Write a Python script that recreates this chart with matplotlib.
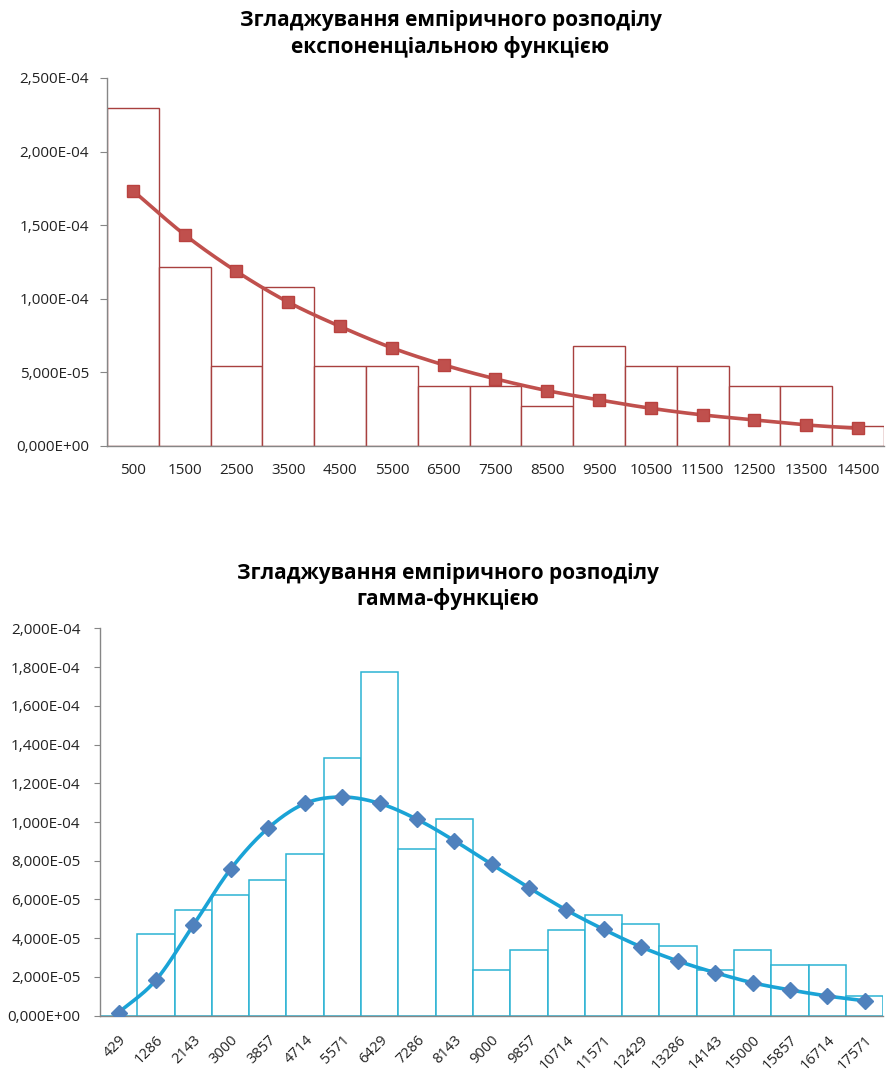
import matplotlib
matplotlib.use("Agg")
import matplotlib.pyplot as plt
import numpy as np
from matplotlib.ticker import FuncFormatter, MultipleLocator

plt.rcParams['font.family'] = ['Open Sans', 'DejaVu Sans']

# --- top chart: exponential smoothing ---
exp_labels = ["500", "1500", "2500", "3500", "4500", "5500", "6500", "7500",
              "8500", "9500", "10500", "11500", "12500", "13500", "14500"]
exp_hist = [2.297e-4, 1.216e-4, 0.541e-4, 1.081e-4, 0.541e-4, 0.541e-4, 0.405e-4,
            0.405e-4, 0.270e-4, 0.676e-4, 0.541e-4, 0.541e-4, 0.405e-4, 0.405e-4,
            0.135e-4]
exp_fit = [1.735e-4, 1.435e-4, 1.186e-4, 0.977e-4, 0.812e-4, 0.667e-4, 0.551e-4,
           0.456e-4, 0.376e-4, 0.313e-4, 0.256e-4, 0.211e-4, 0.177e-4, 0.143e-4,
           0.120e-4]

# --- bottom chart: gamma smoothing ---
gam_labels = ["429", "1286", "2143", "3000", "3857", "4714", "5571", "6429", "7286",
              "8143", "9000", "9857", "10714", "11571", "12429", "13286", "14143",
              "15000", "15857", "16714", "17571"]
gam_hist = [0.0, 0.420e-4, 0.544e-4, 0.623e-4, 0.700e-4, 0.835e-4, 1.332e-4,
            1.773e-4, 0.859e-4, 1.015e-4, 0.236e-4, 0.338e-4, 0.441e-4, 0.520e-4,
            0.473e-4, 0.361e-4, 0.236e-4, 0.338e-4, 0.260e-4, 0.260e-4, 0.102e-4]
gam_fit = [0.016e-4, 0.184e-4, 0.467e-4, 0.756e-4, 0.967e-4, 1.096e-4, 1.129e-4,
           1.096e-4, 1.014e-4, 0.904e-4, 0.782e-4, 0.661e-4, 0.546e-4, 0.446e-4,
           0.356e-4, 0.282e-4, 0.222e-4, 0.170e-4, 0.133e-4, 0.102e-4, 0.077e-4]


def smooth(x, y, n=20):
    # catmull-rom curve through the points (like Excel "smoothed line")
    x = np.asarray(x, float)
    y = np.asarray(y, float)
    px = np.concatenate([[2 * x[0] - x[1]], x, [2 * x[-1] - x[-2]]])
    py = np.concatenate([[2 * y[0] - y[1]], y, [2 * y[-1] - y[-2]]])
    xs, ys = [], []
    t = np.linspace(0, 1, n, endpoint=False)
    for i in range(1, len(px) - 2):
        for p, out in ((px, xs), (py, ys)):
            p0, p1, p2, p3 = p[i - 1], p[i], p[i + 1], p[i + 2]
            out.extend(0.5 * (2 * p1 + (-p0 + p2) * t + (2 * p0 - 5 * p1 + 4 * p2 - p3) * t ** 2
                              + (-p0 + 3 * p1 - 3 * p2 + p3) * t ** 3))
    xs.append(x[-1])
    ys.append(y[-1])
    return xs, ys


sci = FuncFormatter(lambda v, pos: ("%.3E" % v).replace(".", ","))


def style(ax, labels, ymax, step, rot):
    n = len(labels)
    ax.set_xlim(-0.5, n - 0.5)
    ax.set_ylim(0, ymax)
    ax.yaxis.set_major_locator(MultipleLocator(step))
    ax.yaxis.set_major_formatter(sci)
    ax.set_xticks(range(n))
    if rot:
        ax.set_xticklabels(labels, rotation=45, ha="right", rotation_mode="anchor")
    else:
        ax.set_xticklabels(labels)
    for s in ("top", "right"):
        ax.spines[s].set_visible(False)
    for s in ("left", "bottom"):
        ax.spines[s].set_color("#868686")
        ax.spines[s].set_linewidth(1.0)
    ax.tick_params(axis="y", length=5, color="#868686", labelsize=11, pad=8, labelcolor="#222222")
    ax.tick_params(axis="x", length=0, labelsize=11, labelcolor="#222222")


fig = plt.figure(figsize=(8.87, 10.77), dpi=100)

ax1 = fig.add_axes([0.1206, 0.5859, 0.876, 0.3417])
x1 = np.arange(len(exp_labels))
ax1.bar(x1, exp_hist, width=1.0, color="white", edgecolor="#A8403F", linewidth=1.0, zorder=2)
sx, sy = smooth(x1, exp_fit)
ax1.plot(sx, sy, color="#C0504D", linewidth=2.6, zorder=3)
ax1.plot(x1, exp_fit, linestyle="none", marker="s", markersize=9,
         color="#C0504D", markeredgecolor="#B9423F", zorder=4)
style(ax1, exp_labels, 2.5e-4, 5e-5, False)
ax1.tick_params(axis="x", pad=12)

ax2 = fig.add_axes([0.1127, 0.0569, 0.8831, 0.3597])
x2 = np.arange(len(gam_labels))
ax2.bar(x2, gam_hist, width=1.0, color="white", edgecolor="#2BB3D3", linewidth=1.1, zorder=2)
sx, sy = smooth(x2, gam_fit)
ax2.plot(sx, sy, color="#1AA3D6", linewidth=2.6, zorder=3)
ax2.plot(x2, gam_fit, linestyle="none", marker="D", markersize=8,
         color="#4F81BD", markeredgecolor="#4F81BD", zorder=4)
style(ax2, gam_labels, 2.0e-4, 2e-5, True)
ax2.tick_params(axis="y", length=4, pad=10)
ax2.tick_params(axis="x", pad=12, labelsize=10.5)

fig.text(0.508, 0.9685, "Згладжування емпіричного розподілу\nекспоненціальною функцією",
         ha="center", va="center", fontsize=15, fontweight="bold", linespacing=1.25)
fig.text(0.505, 0.4555, "Згладжування емпіричного розподілу\nгамма-функцією",
         ha="center", va="center", fontsize=15, fontweight="bold", linespacing=1.25)

fig.savefig("out.png", dpi=100, facecolor="white")
